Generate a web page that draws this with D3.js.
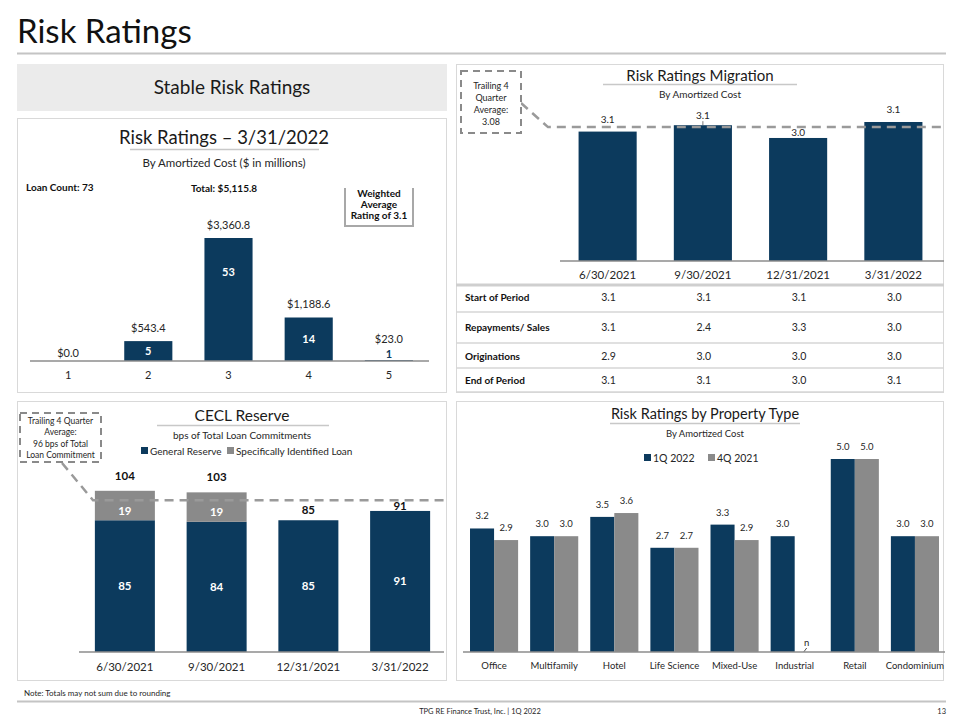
<!DOCTYPE html>
<html>
<head>
<meta charset="utf-8">
<script src="https://cdn.jsdelivr.net/npm/d3@7"></script>
<style>
  html, body { margin: 0; padding: 0; background: #fff; }
  svg { display: block; font-family: Lato, "Open Sans", sans-serif; }
</style>
</head>
<body>
<svg id="chart" width="960" height="720"></svg>
<script>
// ---------- DATA ----------
const ratingCats = ["1", "2", "3", "4", "5"];
const ratingAmounts = [0.0, 543.4, 3360.8, 1188.6, 23.0];
const ratingCounts = [null, 5, 53, 14, 1];

const quarters = ["6/30/2021", "9/30/2021", "12/31/2021", "3/31/2022"];
const migrationValues = [3.08, 3.12, 3.04, 3.14];
const migrationAverage = 3.08;
const tableRowLabels = ["Start of Period", "Repayments/ Sales", "Originations", "End of Period"];
const startOfPeriod = ["3.1", "3.1", "3.1", "3.0"];
const repaymentsSales = ["3.1", "2.4", "3.3", "3.0"];
const originations = ["2.9", "3.0", "3.0", "3.0"];
const endOfPeriod = ["3.1", "3.1", "3.0", "3.1"];

const ceclSeries = ["General Reserve", "Specifically Identified Loan"];
const generalReserve = [85, 84, 85, 91];
const specificLoan = [19, 19, 0, 0];
const ceclTotals = [104, 103, 85, 91];
const ceclAverage = 96;

const propertyTypes = ["Office", "Multifamily", "Hotel", "Life Science", "Mixed-Use", "Industrial", "Retail", "Condominium"];
const propSeries = ["1Q 2022", "4Q 2021"];
const q1_2022 = [3.2, 3.0, 3.5, 2.7, 3.3, 3.0, 5.0, 3.0];
const q4_2021 = [2.9, 3.0, 3.6, 2.7, 2.9, null, 5.0, 3.0];

// ---------- STYLE ----------
const NAVY = "#0c3a5d";
const GRAY = "#8a8a8a";
const BORDER = "#d9d9d9";
const TXT = "#262626";

const svg = d3.select("#chart");

function text(x, y, str, opts = {}) {
  const t = svg.append("text").attr("x", x).attr("y", y).text(str)
    .attr("font-size", opts.size || 12)
    .attr("fill", opts.fill || TXT)
    .attr("text-anchor", opts.anchor || "middle");
  if (opts.bold) t.attr("font-weight", "bold");
  return t;
}
function hline(x1, x2, y, color, w) {
  svg.append("line").attr("x1", x1).attr("x2", x2).attr("y1", y).attr("y2", y)
    .attr("stroke", color).attr("stroke-width", w || 1);
}
function panel(x, y, w, h) {
  svg.append("rect").attr("x", x).attr("y", y).attr("width", w).attr("height", h)
    .attr("fill", "#fff").attr("stroke", BORDER).attr("stroke-width", 1);
}

// ---------- PAGE ----------
text(17, 43, "Risk Ratings", { size: 33, anchor: "start", fill: "#111" });
hline(17, 946, 53.5, "#c4c4c4", 2);

svg.append("rect").attr("x", 17).attr("y", 64).attr("width", 430).attr("height", 47).attr("fill", "#ebebeb");
text(232, 94, "Stable Risk Ratings", { size: 19, fill: "#1a1a1a" });

panel(17.5, 118.5, 429, 274);
panel(456.5, 64.5, 487, 328);
panel(17.5, 401.5, 429, 279);
panel(456.5, 401.5, 487, 279);

// ---------- Panel 1: Risk Ratings 3/31/2022 ----------
text(224, 144, "Risk Ratings \u2013 3/31/2022", { size: 18.5, fill: "#1a1a1a" });
hline(130, 319, 149.5, "#c8c8c8", 1.5);
text(224, 167, "By Amortized Cost ($ in millions)", { size: 11.5 });
text(26, 191, "Loan Count: 73", { size: 10, bold: true, anchor: "start", fill: "#111" });
text(224, 192, "Total: $5,115.8", { size: 10, bold: true, fill: "#111" });

svg.append("path").attr("d", "M345,188 V226 H413 V188").attr("fill", "none")
  .attr("stroke", "#a8a8a8").attr("stroke-width", 2);
["Weighted", "Average", "Rating of 3.1"].forEach((s, i) =>
  text(379, 197 + i * 11, s, { size: 10, bold: true, fill: "#111" }));

const x1 = d3.scaleBand().domain(ratingCats).range([28, 429]).paddingInner(0.4).paddingOuter(0.2);
const y1 = d3.scaleLinear().domain([0, 3360.8]).range([361, 238]);
const fmt$ = d3.format("$,.1f");

svg.append("g").selectAll("rect").data(ratingCats).join("rect")
  .attr("x", d => x1(d)).attr("width", x1.bandwidth())
  .attr("y", (d, i) => y1(ratingAmounts[i]))
  .attr("height", (d, i) => y1(0) - y1(ratingAmounts[i]))
  .attr("fill", NAVY);

const ax1 = svg.append("g").attr("transform", "translate(0,361)")
  .call(d3.axisBottom(x1).tickSize(0).tickPadding(10));
ax1.select(".domain").attr("stroke", "#8c8c8c").attr("stroke-width", 1.5).attr("d", "M30,0H429");
ax1.selectAll("text").attr("font-size", 11).attr("fill", TXT).attr("font-family", "Lato, sans-serif");

ratingCats.forEach((c, i) => {
  const cx = x1(c) + x1.bandwidth() / 2;
  const top = y1(ratingAmounts[i]);
  const h = y1(0) - top;
  const cnt = ratingCounts[i];
  let labY;
  if (cnt == null) labY = top - 4;
  else if (h < 10) labY = top - 17;
  else labY = top - 9;
  text(cx, labY, fmt$(ratingAmounts[i]), { size: 11 });
  if (cnt != null) {
    if (h < 10) {
      text(cx, top - 2, cnt, { size: 11, bold: true, fill: NAVY });
    } else {
      const cy = Math.min(top + h / 2, top + 34);
      text(cx, cy + 4, cnt, { size: 11, bold: true, fill: "#fff" });
    }
  }
});

// ---------- Panel 2: Risk Ratings Migration ----------
text(700, 81, "Risk Ratings Migration", { size: 15, fill: "#1a1a1a" });
hline(603, 797, 84.5, "#c8c8c8", 1.5);
text(700, 98, "By Amortized Cost", { size: 10 });

const x2 = d3.scaleBand().domain(quarters).range([560, 941]).paddingInner(0.39).paddingOuter(0.195);
const y2 = d3.scaleLinear().domain([2.27, 3.14]).range([261, 122]);

svg.append("g").selectAll("rect").data(quarters).join("rect")
  .attr("x", d => x2(d)).attr("width", x2.bandwidth())
  .attr("y", (d, i) => y2(migrationValues[i]))
  .attr("height", (d, i) => y2(2.27) - y2(migrationValues[i]))
  .attr("fill", NAVY);

const avgY2 = y2(migrationAverage) - 4.5;
svg.append("path").attr("d", `M521,103 L548,${avgY2} H944`).attr("fill", "none")
  .attr("stroke", "#9a9a9a").attr("stroke-width", 2.5).attr("stroke-dasharray", "9,6");
svg.append("rect").attr("x", 461).attr("y", 71).attr("width", 60).attr("height", 62)
  .attr("fill", "#fff").attr("stroke", "#8a8a8a").attr("stroke-width", 2).attr("stroke-dasharray", "7,5");
["Trailing 4", "Quarter", "Average:", "3.08"].forEach((s, i) =>
  text(491, 89 + i * 12, s, { size: 9 }));

quarters.forEach((q, i) => {
  const cx = x2(q) + x2.bandwidth() / 2;
  const top = y2(migrationValues[i]);
  let base = top - 9;
  if (base > avgY2 && base - 8 < avgY2) {
    // label would sit on the dashed average line: move it just below the line
    base = avgY2 + 9;
  } else if (Math.abs(top - avgY2) < 3) {
    // bar top touches the line: label sits slightly higher with a leader tick
    base = top - 6;
    svg.append("line").attr("x1", cx).attr("x2", cx).attr("y1", top - 4).attr("y2", top)
      .attr("stroke", "#555").attr("stroke-width", 0.8);
  }
  text(cx, base, migrationValues[i].toFixed(1), { size: 10 });
});

const ax2 = svg.append("g").attr("transform", "translate(0,261)")
  .call(d3.axisBottom(x2).tickSize(0).tickPadding(10));
ax2.select(".domain").attr("stroke", "#8c8c8c").attr("stroke-width", 1.5).attr("d", "M560,0H944");
ax2.selectAll("text").attr("font-size", 11.5).attr("fill", TXT).attr("font-family", "Lato, sans-serif");

// table
hline(456, 944, 285, "#cfcfcf", 3);
const tableData = [startOfPeriod, repaymentsSales, originations, endOfPeriod];
const rowY = [297, 327, 356, 380];
const sepY = [312, 343, 368, 392];
sepY.forEach(yy => hline(456, 944, yy, "#d6d6d6", 1.5));
tableRowLabels.forEach((lab, r) => {
  text(465, rowY[r] + 4, lab, { size: 10, bold: true, anchor: "start", fill: "#111" });
  quarters.forEach((q, c) => {
    text(x2(q) + x2.bandwidth() / 2 + 1, rowY[r] + 4, tableData[r][c], { size: 10.5 });
  });
});

// ---------- Panel 3: CECL Reserve ----------
text(242, 421, "CECL Reserve", { size: 15.5, fill: "#1a1a1a" });
hline(157, 329, 425.5, "#c8c8c8", 1.5);
text(242, 439, "bps of Total Loan Commitments", { size: 10 });

// legend
svg.append("rect").attr("x", 141).attr("y", 447).attr("width", 7).attr("height", 7).attr("fill", NAVY);
text(150, 455, ceclSeries[0], { size: 10, anchor: "start" });
svg.append("rect").attr("x", 227).attr("y", 447).attr("width", 7).attr("height", 7).attr("fill", GRAY);
text(236, 455, ceclSeries[1], { size: 10, anchor: "start" });

const x3 = d3.scaleBand().domain(quarters).range([79, 446]).paddingInner(0.346).paddingOuter(0.173);
const y3 = d3.scaleLinear().domain([0, 100]).range([652, 497]);

const stackRows = quarters.map((q, i) => ({ q, general: generalReserve[i], specific: specificLoan[i] }));
const stacked = d3.stack().keys(["general", "specific"])(stackRows);
const colors3 = { general: NAVY, specific: GRAY };

svg.append("g").selectAll("g").data(stacked).join("g")
  .attr("fill", s => colors3[s.key])
  .selectAll("rect").data(s => s).join("rect")
  .attr("x", d => x3(d.data.q)).attr("width", x3.bandwidth())
  .attr("y", d => y3(d[1])).attr("height", d => y3(d[0]) - y3(d[1]));

const avgY3 = y3(ceclAverage) - 3;
svg.append("path").attr("d", `M62,463 L93,${avgY3} H447`).attr("fill", "none")
  .attr("stroke", "#9a9a9a").attr("stroke-width", 2.5).attr("stroke-dasharray", "9,6");
svg.append("rect").attr("x", 20).attr("y", 413).attr("width", 81).attr("height", 49)
  .attr("fill", "#fff").attr("stroke", "#8a8a8a").attr("stroke-width", 2).attr("stroke-dasharray", "7,5");
["Trailing 4 Quarter", "Average:", "96 bps of Total", "Loan Commitment"].forEach((s, i) =>
  text(60.5, 424 + i * 11.3, s, { size: 8.5 }));

quarters.forEach((q, i) => {
  const cx = x3(q) + x3.bandwidth() / 2;
  const g = generalReserve[i], s = specificLoan[i];
  const top = y3(g + s);
  const totBase = s > 0 ? top - 11 : Math.max(top - 6, avgY3 + 10);
  text(cx, totBase, ceclTotals[i], { size: 11.5, bold: true, fill: "#111" });
  if (s > 0) text(cx, (y3(g) + y3(g + s)) / 2 + 9, s, { size: 11.5, bold: true, fill: "#fff" });
  text(cx, (y3(g) + y3(0)) / 2 + 4, g, { size: 11.5, bold: true, fill: "#fff" });
});

const ax3 = svg.append("g").attr("transform", "translate(0,652)")
  .call(d3.axisBottom(x3).tickSize(0).tickPadding(11));
ax3.select(".domain").attr("stroke", "#8c8c8c").attr("stroke-width", 1.5).attr("d", "M79,0H444");
ax3.selectAll("text").attr("font-size", 11.5).attr("fill", TXT).attr("font-family", "Lato, sans-serif");

text(24, 696, "Note: Totals may not sum due to rounding", { size: 8, anchor: "start" });

// ---------- Panel 4: Risk Ratings by Property Type ----------
text(705, 419, "Risk Ratings by Property Type", { size: 14.5, fill: "#1a1a1a" });
hline(610, 800, 423.5, "#c8c8c8", 1.5);
text(705, 437, "By Amortized Cost", { size: 9.5 });

svg.append("rect").attr("x", 644).attr("y", 454).attr("width", 7).attr("height", 7).attr("fill", NAVY);
text(653, 462, propSeries[0], { size: 10.5, anchor: "start" });
svg.append("rect").attr("x", 708).attr("y", 454).attr("width", 7).attr("height", 7).attr("fill", GRAY);
text(717, 462, propSeries[1], { size: 10.5, anchor: "start" });

const x4 = d3.scaleBand().domain(propertyTypes).range([464, 945]).paddingInner(0.2).paddingOuter(0.1);
const x4s = d3.scaleBand().domain(propSeries).range([0, x4.bandwidth()]);
const y4 = d3.scaleLinear().domain([0, 5]).range([652, 459]);
const propData = [q1_2022, q4_2021];
const colors4 = [NAVY, GRAY];

propSeries.forEach((s, si) => {
  svg.append("g").selectAll("rect").data(propertyTypes.filter((p, i) => propData[si][i] != null)).join("rect")
    .attr("x", p => x4(p) + x4s(s)).attr("width", x4s.bandwidth())
    .attr("y", p => y4(propData[si][propertyTypes.indexOf(p)]))
    .attr("height", p => y4(0) - y4(propData[si][propertyTypes.indexOf(p)]))
    .attr("fill", colors4[si]);
  propertyTypes.forEach((p, i) => {
    const v = propData[si][i];
    const cx = x4(p) + x4s(s) + x4s.bandwidth() / 2;
    if (v != null) {
      text(cx, y4(v) - 9, v.toFixed(1), { size: 9.5 });
    } else {
      text(cx, 646, "n", { size: 9.5 });
      svg.append("line").attr("x1", cx - 3).attr("y1", 652).attr("x2", cx).attr("y2", 648)
        .attr("stroke", TXT).attr("stroke-width", 0.8);
    }
  });
});

const ax4 = svg.append("g").attr("transform", "translate(0,652)")
  .call(d3.axisBottom(x4).tickSize(0).tickPadding(10));
ax4.select(".domain").attr("stroke", "#8c8c8c").attr("stroke-width", 1.5).attr("d", "M463,0H945");
ax4.selectAll("text").attr("font-size", 9.5).attr("fill", TXT).attr("font-family", "Lato, sans-serif");

// ---------- Footer ----------
hline(17, 946, 701.5, "#c4c4c4", 2);
text(480, 714, "TPG RE Finance Trust, Inc. | 1Q 2022", { size: 7.5 });
text(946, 714, "13", { size: 7.5, anchor: "end" });
</script>
</body>
</html>
